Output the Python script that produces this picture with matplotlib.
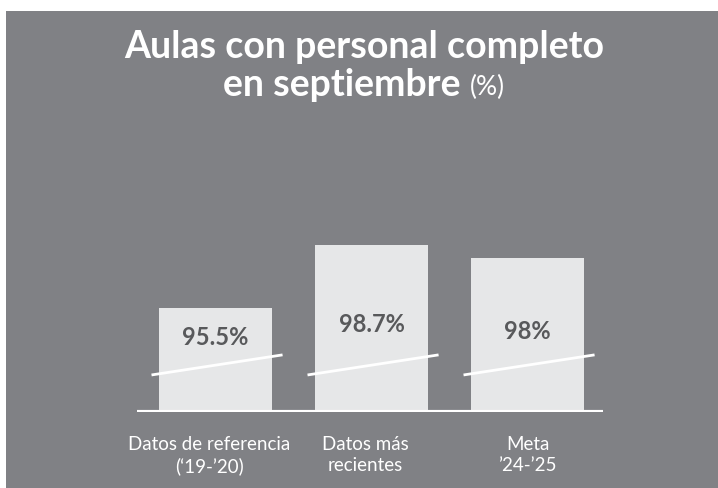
import matplotlib.pyplot as plt
from matplotlib.patches import Rectangle

# datos
categorias = ['Datos de referencia\n(\u201819-\u201920)', 'Datos más\nrecientes', 'Meta\n\u201924-\u201925']
valores = [95.5, 98.7, 98.0]
etiquetas = ['95.5%', '98.7%', '98%']

GRIS = '#808185'
BARRA = '#e6e7e8'
TEXTO = '#58595b'
FUENTE = ['Lato', 'DejaVu Sans']

W, H = 718, 488
fig = plt.figure(figsize=(W / 100, H / 100), dpi=100)
fig.patch.set_facecolor('white')
fig.add_artist(Rectangle((6 / W, 0), 1, 1 - 11 / H, transform=fig.transFigure,
                         facecolor=GRIS, edgecolor='none', zorder=0))

# ejes en pixeles: base en y=412, escala truncada
y0, y1 = 412, 200
ax = fig.add_axes([137 / W, 1 - y0 / H, (603 - 137) / W, (y0 - y1) / H])
ax.set_facecolor('none')
ymin = 90.2
ax.set_ylim(ymin, ymin + (y0 - y1) / 19.7)
ax.set_xlim(-0.503, 2.484)

x = range(len(valores))
ax.bar(x, [v - ymin for v in valores], bottom=ymin, width=0.725, color=BARRA, zorder=2)
ax.axhline(ymin, color='white', lw=3, zorder=3)

# lineas de corte del eje
for i in x:
    ax.plot([i - 0.41, i + 0.43], [92.08, 93.1], color='white', lw=2, zorder=4,
            solid_capstyle='butt')

pos_etiqueta = [93.96, 94.62, 94.31]
for i, (e, py) in enumerate(zip(etiquetas, pos_etiqueta)):
    ax.text(i, py, e, ha='center', va='center', fontsize=17, fontweight='bold',
            color=TEXTO, family=FUENTE, zorder=5)

# etiquetas de categoria (algo corridas a la izquierda como en el original)
desplaz = [-0.04, -0.04, 0.0]
for i, (c, d) in enumerate(zip(categorias, desplaz)):
    ax.annotate(c, xy=(i + d, 0), xycoords=('data', 'axes fraction'),
                xytext=(0, -17), textcoords='offset points', ha='center', va='top',
                color='white', fontsize=13.5, family=FUENTE, linespacing=1.3)
ax.set_xticks([])
ax.set_yticks([])
for s in ax.spines.values():
    s.set_visible(False)

# titulo
cx = 364 / W
fig.text(cx, 1 - 47 / H, 'Aulas con personal completo', ha='center', va='center',
         color='white', fontsize=27, fontweight='bold', family=FUENTE)
t1 = fig.text(0, 1 - 85 / H, 'en septiembre ', ha='left', va='center',
              color='white', fontsize=27, fontweight='bold', family=FUENTE)
t2 = fig.text(0, 1 - 87 / H, '(%)', ha='left', va='center',
              color='white', fontsize=19, family=FUENTE)
r = fig.canvas.get_renderer()
w1 = t1.get_window_extent(r).width / W
w2 = t2.get_window_extent(r).width / W
x0 = cx - (w1 + w2) / 2
t1.set_x(x0)
t2.set_x(x0 + w1)

fig.savefig('out.png', dpi=100, facecolor='white')
